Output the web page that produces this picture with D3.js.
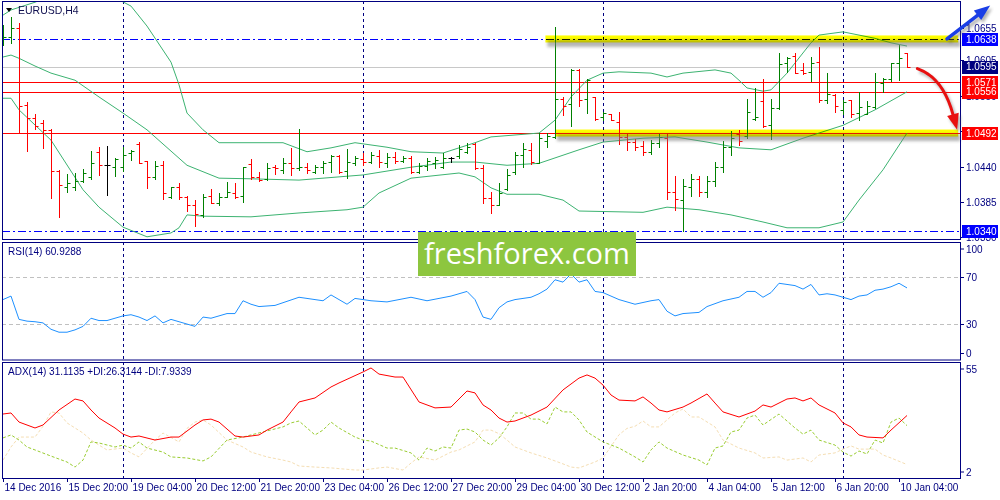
<!DOCTYPE html>
<html><head><meta charset="utf-8">
<script src="https://cdn.jsdelivr.net/npm/d3@7"></script>
<style>
body{margin:0;background:#fff;}
svg{display:block;font-family:"Liberation Sans",Arial,sans-serif;}
</style></head><body>
<svg id="c" width="1000" height="500"></svg>
<script>
// ---------------- DATA ----------------
const symbolTitle = "EURUSD,H4";
const rsiTitle = "RSI(14) 60.9288";
const adxTitle = "ADX(14) 31.1135 +DI:26.3144 -DI:7.9339";

const opens  = [1.0632,1.0641,1.0655,1.0535,1.0515,1.0507,1.0497,1.0433,1.0408,1.0409,1.0417,1.0424,1.0463,1.0442,1.0440,1.0439,1.0461,1.0475,1.0448,1.0424,1.0442,1.0393,1.0408,1.0393,1.0381,1.0365,1.0394,1.0384,1.0393,1.0399,1.0394,1.0444,1.0424,1.0421,1.0439,1.0434,1.0445,1.0437,1.0440,1.0432,1.0439,1.0447,1.0456,1.0433,1.0445,1.0451,1.0447,1.0457,1.0445,1.0455,1.0449,1.0453,1.0431,1.0441,1.0445,1.0440,1.0453,1.0456,1.0462,1.0475,1.0437,1.0391,1.0381,1.0405,1.0431,1.0458,1.0466,1.0446,1.0480,1.0486,1.0545,1.0537,1.0590,1.0545,1.0548,1.0517,1.0522,1.0509,1.0486,1.0478,1.0472,1.0462,1.0476,1.0485,1.0400,1.0388,1.0408,1.0420,1.0400,1.0418,1.0440,1.0470,1.0490,1.0487,1.0514,1.0542,1.0505,1.0531,1.0601,1.0612,1.0590,1.0586,1.0602,1.0543,1.0551,1.0528,1.0543,1.0523,1.0522,1.0533,1.0570,1.0576,1.0600,1.0616];
const highs  = [1.0660,1.0672,1.0662,1.0540,1.0521,1.0512,1.0499,1.0435,1.0428,1.0430,1.0436,1.0464,1.0471,1.0472,1.0454,1.0470,1.0466,1.0478,1.0449,1.0449,1.0449,1.0408,1.0415,1.0394,1.0388,1.0397,1.0405,1.0399,1.0416,1.0414,1.0439,1.0451,1.0432,1.0446,1.0442,1.0453,1.0469,1.0498,1.0446,1.0442,1.0448,1.0458,1.0458,1.0467,1.0456,1.0461,1.0463,1.0466,1.0461,1.0463,1.0456,1.0456,1.0445,1.0453,1.0455,1.0461,1.0455,1.0474,1.0477,1.0477,1.0442,1.0400,1.0414,1.0436,1.0463,1.0477,1.0477,1.0492,1.0492,1.0657,1.0548,1.0591,1.0591,1.0576,1.0548,1.0525,1.0522,1.0525,1.0490,1.0483,1.0480,1.0481,1.0490,1.0490,1.0425,1.0420,1.0428,1.0425,1.0425,1.0447,1.0480,1.0495,1.0497,1.0545,1.0562,1.0576,1.0545,1.0616,1.0610,1.0616,1.0601,1.0610,1.0625,1.0585,1.0553,1.0543,1.0543,1.0556,1.0542,1.0585,1.0577,1.0601,1.0629,1.0616];
const lows   = [1.0629,1.0632,1.0494,1.0464,1.0499,1.0469,1.0391,1.0362,1.0400,1.0403,1.0416,1.0421,1.0427,1.0396,1.0426,1.0433,1.0450,1.0445,1.0407,1.0421,1.0390,1.0391,1.0390,1.0371,1.0348,1.0362,1.0383,1.0380,1.0393,1.0391,1.0385,1.0420,1.0418,1.0419,1.0429,1.0430,1.0427,1.0434,1.0430,1.0430,1.0430,1.0432,1.0430,1.0422,1.0442,1.0442,1.0446,1.0439,1.0439,1.0446,1.0447,1.0430,1.0430,1.0435,1.0438,1.0438,1.0447,1.0453,1.0461,1.0436,1.0383,1.0368,1.0380,1.0403,1.0428,1.0439,1.0444,1.0445,1.0470,1.0484,1.0520,1.0503,1.0534,1.0523,1.0512,1.0512,1.0512,1.0475,1.0466,1.0466,1.0458,1.0459,1.0470,1.0390,1.0372,1.0340,1.0395,1.0395,1.0392,1.0410,1.0432,1.0458,1.0474,1.0485,1.0512,1.0501,1.0483,1.0529,1.0587,1.0585,1.0584,1.0573,1.0540,1.0539,1.0525,1.0522,1.0517,1.0512,1.0521,1.0531,1.0556,1.0573,1.0574,1.0594];
const closes = [1.0641,1.0655,1.0534,1.0515,1.0503,1.0497,1.0433,1.0411,1.0415,1.0417,1.0430,1.0446,1.0442,1.0442,1.0452,1.0458,1.0464,1.0445,1.0424,1.0441,1.0399,1.0408,1.0393,1.0381,1.0367,1.0393,1.0384,1.0393,1.0400,1.0393,1.0439,1.0424,1.0419,1.0438,1.0437,1.0445,1.0437,1.0440,1.0435,1.0439,1.0446,1.0456,1.0432,1.0447,1.0453,1.0447,1.0458,1.0447,1.0455,1.0449,1.0453,1.0431,1.0441,1.0449,1.0450,1.0453,1.0453,1.0467,1.0470,1.0438,1.0391,1.0380,1.0399,1.0427,1.0458,1.0467,1.0447,1.0485,1.0487,1.0545,1.0534,1.0590,1.0543,1.0574,1.0514,1.0523,1.0512,1.0486,1.0478,1.0470,1.0462,1.0476,1.0486,1.0400,1.0390,1.0410,1.0420,1.0400,1.0418,1.0440,1.0470,1.0485,1.0480,1.0525,1.0517,1.0503,1.0531,1.0599,1.0608,1.0585,1.0585,1.0601,1.0543,1.0553,1.0534,1.0540,1.0522,1.0532,1.0534,1.0571,1.0576,1.0600,1.0608,1.0595];

// Bollinger bands (20,2): [bar index, price]
const bbUpper  = [[0,1.0675],[1,1.0683],[4,1.0695],[6,1.0705],[9,1.0715],[12,1.0712],[14,1.0702],[16,1.0689],[18,1.0658],[21,1.0602],[22,1.0567],[23,1.0523],[25,1.0497],[27,1.0477],[31,1.0477],[35,1.0477],[38,1.0463],[41,1.0469],[44,1.0477],[48,1.0470],[51,1.0463],[55,1.0461],[59,1.0477],[61,1.0486],[67,1.0492],[69,1.0512],[71,1.0548],[73,1.0574],[75,1.0585],[77,1.0587],[81,1.0585],[83,1.0579],[85,1.0585],[89,1.0590],[91,1.0585],[92,1.0574],[93,1.0562],[95,1.0557],[96,1.0559],[98,1.0585],[101,1.0632],[102,1.0644],[105,1.0649],[109,1.0639],[111,1.0632],[113,1.0627]];
const bbMiddle = [[0,1.0610],[1,1.0613],[2,1.0608],[4,1.0596],[6,1.0585],[9,1.0574],[12,1.0548],[15,1.0523],[18,1.0497],[23,1.0442],[27,1.0422],[31,1.0421],[37,1.0419],[45,1.0427],[51,1.0439],[56,1.0447],[59,1.0447],[63,1.0442],[67,1.0445],[72,1.0466],[75,1.0478],[80,1.0484],[84,1.0486],[88,1.0478],[92,1.0469],[96,1.0466],[100,1.0484],[105,1.0504],[109,1.0528],[113,1.0556]];
const bbLower  = [[0,1.0546],[1,1.0546],[2,1.0528],[6,1.0481],[10,1.0404],[12,1.0377],[15,1.0346],[18,1.0331],[21,1.0337],[22,1.0345],[23,1.0365],[25,1.0363],[31,1.0362],[37,1.0368],[43,1.0373],[45,1.0377],[47,1.0399],[51,1.0422],[57,1.0430],[59,1.0424],[61,1.0407],[63,1.0397],[67,1.0397],[70,1.0388],[72,1.0371],[80,1.0369],[83,1.0377],[87,1.0373],[91,1.0365],[95,1.0354],[98,1.0345],[102,1.0345],[105,1.0354],[107,1.0388],[110,1.0435],[113,1.0492]];

const rsiValues = [[0,51],[1,54],[2,34],[3,32.5],[4,32],[5,31],[6,25.5],[7,23],[8,23],[9,25],[10,28],[11,35],[12,33],[13,33],[14,35],[15,37],[16,38],[17,36],[18,33],[19,37],[20,31],[21,34],[22,32],[23,30],[24,28],[25,36],[26,35],[27,37],[28,39],[29,39],[30,50],[31,47],[32,45],[34,46],[37,53],[40,50],[41,55],[43,47],[44,52],[46,50],[48,49],[51,53],[53,50],[56,54],[58,58],[59,51],[60,36],[61,34],[62,44],[63,49],[64,51],[66,53],[67,56],[68,60],[69,68],[70,66],[71,73],[72,66],[73,68],[74,58],[75,57],[77,51],[79,47],[81,50],[82,51],[83,41],[84,37],[85,39],[87,40],[88,45],[90,50],[92,53],[93,58],[94,58],[95,53],[96,57],[97,65],[99,63],[100,60],[101,64],[102,55],[103,56],[104,55],[106,51],[107,54],[108,55],[109,59],[110,60],[111,62],[112,65],[113,61]];
const rsiLevels = [70, 30];
const rsiTicks = [100, 70, 30, 0];

const adxValues = [[0,31.8],[1,32.3],[2,28.0],[4,25.2],[5,26.6],[7,33.7],[9,38.9],[10,38.0],[11,33.7],[12,29.9],[14,25.2],[15,22.3],[16,20.9],[17,21.4],[19,19.5],[21,20.9],[22,20.9],[24,26.6],[25,29.0],[26,29.4],[27,28.0],[29,21.4],[30,20.9],[32,21.9],[33,24.2],[35,28.0],[36,32.8],[37,37.5],[39,39.4],[41,44.6],[42,46.5],[45,51.7],[46,53.6],[47,50.7],[49,49.3],[50,49.3],[52,37.5],[54,34.7],[56,35.1],[58,42.7],[59,41.8],[60,36.1],[61,33.7],[62,29.9],[63,28.0],[64,28.5],[66,31.3],[68,35.1],[70,43.2],[72,48.8],[73,50.3],[74,48.8],[75,45.5],[76,40.8],[77,38.4],[79,38.0],[80,39.9],[81,37.0],[82,33.7],[83,32.8],[85,35.1],[86,37.0],[88,41.3],[89,37.0],[90,32.8],[92,30.4],[94,33.2],[95,36.1],[96,35.1],[98,38.9],[99,39.4],[100,38.0],[101,39.4],[102,36.1],[104,32.3],[105,27.6],[106,25.7],[107,21.9],[108,20.9],[110,20.5],[111,24.2],[113,31.1]];
const plusDI = [[0,20.5],[1,21.9],[2,19.5],[3,16.2],[4,14.8],[6,11.9],[8,9.1],[9,6.7],[10,10.0],[11,18.6],[12,18.1],[14,16.2],[15,17.1],[16,15.7],[17,18.6],[18,15.7],[20,13.8],[21,11.5],[23,11.0],[25,9.6],[26,11.5],[28,19.5],[30,20.9],[31,21.9],[33,23.8],[35,25.7],[36,27.6],[37,28.5],[39,21.9],[40,24.2],[41,28.0],[42,25.2],[44,20.9],[45,19.5],[46,19.0],[48,15.7],[49,15.7],[51,13.4],[52,10.0],[53,15.7],[54,14.3],[55,16.2],[56,15.7],[57,24.2],[58,24.7],[59,23.3],[60,19.5],[61,17.1],[62,20.5],[63,25.7],[64,32.3],[65,32.3],[66,29.4],[67,29.4],[68,27.1],[69,35.1],[70,32.8],[71,32.8],[72,29.0],[73,23.3],[75,18.6],[77,15.7],[79,11.5],[80,9.1],[81,14.8],[82,18.6],[83,15.7],[85,12.4],[87,10.0],[88,7.7],[89,15.7],[90,16.7],[91,23.3],[92,24.2],[93,29.9],[94,31.3],[95,26.6],[97,31.8],[99,25.2],[100,22.3],[101,24.2],[102,19.5],[104,17.1],[105,13.8],[106,11.9],[107,14.3],[108,12.9],[109,19.5],[110,18.1],[111,28.0],[112,29.9],[113,26.3]];
const minusDI = [[0,10.0],[1,16.2],[2,20.9],[4,20.9],[5,26.0],[6,32.8],[7,32.3],[8,27.6],[10,22.8],[11,19.5],[12,17.1],[13,14.8],[15,15.7],[16,13.4],[17,11.5],[19,19.5],[20,22.8],[22,18.6],[23,25.0],[24,28.0],[25,29.0],[26,26.6],[28,19.5],[30,16.2],[31,13.8],[33,11.5],[35,10.0],[36,9.1],[37,7.2],[39,6.7],[41,6.3],[44,5.3],[45,5.3],[47,6.3],[48,6.7],[50,5.3],[51,8.6],[52,11.5],[54,10.0],[56,13.8],[57,14.8],[59,18.6],[60,24.2],[61,24.2],[62,22.5],[63,19.5],[64,16.2],[66,13.4],[68,11.0],[70,8.2],[71,6.7],[72,6.3],[74,9.1],[75,11.0],[76,16.5],[77,22.0],[78,25.0],[79,26.0],[80,28.5],[81,25.7],[82,25.7],[84,32.3],[85,34.2],[86,30.4],[87,30.4],[89,25.7],[90,19.5],[92,15.7],[94,13.4],[95,11.0],[97,11.5],[98,10.0],[100,11.0],[101,9.1],[102,12.4],[104,13.4],[105,15.2],[106,16.7],[107,15.2],[109,15.2],[110,12.4],[111,11.0],[113,7.9]];
const adxTicks = [55, 2];

const priceTicks = [1.0655, 1.0605, 1.0550, 1.0495, 1.0440, 1.0385, 1.0330];
const levelPrices = [1.0638, 1.0595, 1.0571, 1.0556, 1.0492, 1.0340];
const zoneBands = [[67.8, 119.4, 1.0638], [69.0, 119.4, 1.0492]]; // highlighter: from bar, to bar, price
const separatorIdx = [15, 45, 75, 105];
const xLabelIdx = [0, 8, 16, 24, 32, 40, 48, 56, 64, 72, 80, 88, 96, 104, 112];
const xLabels = ["14 Dec 2016","15 Dec 20:00","19 Dec 04:00","20 Dec 12:00","21 Dec 20:00","23 Dec 04:00","26 Dec 12:00","27 Dec 20:00","29 Dec 04:00","30 Dec 12:00","2 Jan 20:00","4 Jan 04:00","5 Jan 12:00","6 Jan 20:00","10 Jan 04:00"];
const watermark = "freshforex.com";

// ---------------- LAYOUT ----------------
const L = 2, R = 961;
const P = {main:[1,239], rsi:[242,359.5], adx:[362,478]};
const NAVY = "#000080";
const svg = d3.select("#c");
const defs = svg.append("defs");

const x = d3.scaleLinear().domain([0, 113]).range([3, 907]);
const y = d3.scaleLinear().domain([1.03276, 1.06969]).range([239, 1]);
const yR = d3.scaleLinear().domain([0, 100]).range([359, 242.5]);
const yA = d3.scaleLinear().domain([2, 55]).range([477, 365]);
const cx = v => Math.round(v) + 0.5;
const cy = v => Math.round(v) + 0.5;

[["clipMain",P.main],["clipRsi",P.rsi],["clipAdx",P.adx]].forEach(([id,p])=>{
  defs.append("clipPath").attr("id",id).append("rect")
    .attr("x",L+1).attr("y",p[0]+1).attr("width",R-L-1).attr("height",p[1]-p[0]-1);
});
const blur = defs.append("filter").attr("id","blur").attr("x","-20%").attr("y","-50%").attr("width","140%").attr("height","200%");
blur.append("feGaussianBlur").attr("stdDeviation",1.6);

// period separators (all panels)
Object.values(P).forEach(p=>{
  svg.append("g").selectAll("line").data(separatorIdx).join("line")
    .attr("x1",d=>cx(x(d))).attr("x2",d=>cx(x(d)))
    .attr("y1",p[0]).attr("y2",p[1])
    .attr("stroke",NAVY).attr("stroke-width",1).attr("stroke-dasharray","3,3");
});

// ---------- MAIN PANEL ----------
const gMain = svg.append("g").attr("clip-path","url(#clipMain)");
const lvlStyle = [
  {stroke:"#0000ff", dash:"8,3,2,3", box:"#0000ff"},
  {stroke:"#c8c8c8", dash:null, box:"#000080"},
  {stroke:"#ff0000", dash:null, box:"#ff0000"},
  {stroke:"#ff0000", dash:null, box:"#ff0000"},
  {stroke:"#ff0000", dash:null, box:"#ff0000"},
  {stroke:"#0000ff", dash:"8,3,2,3", box:"#0000ff"}
];
gMain.selectAll("line.lvl").data(levelPrices).join("line").attr("class","lvl")
  .attr("x1",L).attr("x2",R).attr("y1",d=>cy(y(d))).attr("y2",d=>cy(y(d)))
  .attr("stroke",(d,i)=>lvlStyle[i].stroke).attr("stroke-dasharray",(d,i)=>lvlStyle[i].dash);

const bbLine = d3.line().x(d=>x(d[0])).y(d=>y(d[1]));
[bbUpper,bbMiddle,bbLower].forEach(s=>{
  gMain.append("path").attr("d",bbLine(s)).attr("fill","none").attr("stroke","#3cb371").attr("stroke-width",1);
});

const bars = d3.range(opens.length).map(i=>({i,o:opens[i],h:highs[i],l:lows[i],c:closes[i]}));
gMain.selectAll("path.bar").data(bars).join("path").attr("class","bar")
  .attr("fill","none").attr("stroke-width",1)
  .attr("stroke",d=>d.c>d.o?"#008000":(d.c<d.o?"#ff0000":"#000000"))
  .attr("d",d=>{
    const xx=cx(x(d.i)), yh=Math.round(y(d.h)), yl=Math.round(y(d.l))+1;
    const yo=cy(y(d.o)), yc=cy(y(d.c));
    return `M${xx},${yh}V${yl}M${xx-3},${yo}H${xx}M${xx},${yc}H${xx+3}`;
  });

// Highlighter zones
const zg = svg.append("g");
zg.selectAll("rect.sh").data(zoneBands).join("rect").attr("class","sh")
  .attr("x",d=>x(d[0])+2).attr("y",d=>y(d[2])+1).attr("width",d=>x(d[1])-x(d[0])).attr("height",7)
  .attr("fill","#7a7a7a").attr("opacity",0.55).attr("filter","url(#blur)");
zg.selectAll("rect.hl").data(zoneBands).join("rect").attr("class","hl")
  .attr("x",d=>x(d[0])).attr("y",d=>y(d[2])-3.5).attr("width",d=>x(d[1])-x(d[0])).attr("height",7)
  .attr("fill","#ffff00").style("mix-blend-mode","multiply");

// ---------- RSI PANEL ----------
const gR = svg.append("g").attr("clip-path","url(#clipRsi)");
gR.selectAll("line").data(rsiLevels).join("line")
  .attr("x1",L).attr("x2",R).attr("y1",d=>cy(yR(d))).attr("y2",d=>cy(yR(d)))
  .attr("stroke","#c0c0c0").attr("stroke-dasharray","4,3");
gR.append("path").attr("d",d3.line().x(d=>x(d[0])).y(d=>yR(d[1]))(rsiValues))
  .attr("fill","none").attr("stroke","#1e90ff").attr("stroke-width",1);

// ---------- ADX PANEL ----------
const gA = svg.append("g").attr("clip-path","url(#clipAdx)");
const aLine = d3.line().x(d=>x(d[0])).y(d=>yA(d[1]));
gA.append("path").attr("d",aLine(minusDI)).attr("fill","none").attr("stroke","#f5deb3").attr("stroke-dasharray","3,2");
gA.append("path").attr("d",aLine(plusDI)).attr("fill","none").attr("stroke","#9acd32").attr("stroke-dasharray","3,2");
gA.append("path").attr("d",aLine(adxValues)).attr("fill","none").attr("stroke","#ff0000").attr("stroke-width",1);

// ---------- FRAMES ----------
Object.values(P).forEach(p=>{
  svg.append("rect").attr("x",L+0.5).attr("y",p[0]+0.5).attr("width",R-L-1).attr("height",p[1]-p[0])
    .attr("fill","none").attr("stroke",NAVY).attr("stroke-width",1);
});

// ---------- AXES (right) ----------
const axG = svg.append("g").attr("font-size","10px").attr("fill",NAVY);
function rightTicks(vals, scale, fmt, panel){
  vals.forEach(v=>{
    const yy = cy(scale(v));
    const ty = Math.max(panel[0]+7, Math.min(panel[1]-6, yy));
    axG.append("line").attr("x1",R-1).attr("x2",R+3).attr("y1",ty).attr("y2",ty).attr("stroke",NAVY);
    axG.append("text").attr("x",R+5).attr("y",ty).attr("dy","0.35em").text(fmt(v));
  });
}
rightTicks(priceTicks, y, d3.format(".4f"), [-20, 600]);
rightTicks(rsiTicks, yR, d=>d, P.rsi);
rightTicks(adxTicks, yA, d=>d, P.adx);

// level boxes
const lb = svg.append("g").attr("font-size","10px");
levelPrices.forEach((p,i)=>{
  const yy = y(p);
  lb.append("rect").attr("x",R+1).attr("y",Math.round(yy)-6).attr("width",36).attr("height",13).attr("fill",lvlStyle[i].box);
  lb.append("text").attr("x",R+5).attr("y",yy).attr("dy","0.36em").attr("fill","#fff").text(d3.format(".4f")(p));
});

// bottom time axis
const bx = svg.append("g").attr("font-size","10px").attr("fill",NAVY);
xLabelIdx.forEach((idx,k)=>{
  const xx = cx(x(idx));
  bx.append("line").attr("x1",xx).attr("x2",xx).attr("y1",P.adx[1]).attr("y2",P.adx[1]+4).attr("stroke",NAVY);
  bx.append("text").attr("x",xx+1).attr("y",491).text(xLabels[k]);
});

// ---------- TITLES ----------
svg.append("path").attr("d","M6,8 L12,8 L9,12 Z").attr("fill","#000");
svg.append("text").attr("x",18).attr("y",14).attr("font-size","10.5px").attr("fill","#101050").text(symbolTitle);
svg.append("text").attr("x",8).attr("y",255).attr("font-size","10px").attr("fill",NAVY).text(rsiTitle);
svg.append("text").attr("x",8).attr("y",375).attr("font-size","10px").attr("fill",NAVY).text(adxTitle);

// ---------- ANNOTATION ARROWS ----------
const arrowG = svg.append("g");
function arrow(path, head, color, width){
  const sh = arrowG.append("g").attr("transform","translate(2,3)").attr("opacity",0.45).attr("filter","url(#blur)");
  sh.append("path").attr("d",path).attr("fill","none").attr("stroke","#555").attr("stroke-width",width);
  sh.append("path").attr("d",head).attr("fill","#555");
  arrowG.append("path").attr("d",path).attr("fill","none").attr("stroke",color).attr("stroke-width",width).attr("stroke-linecap","round");
  arrowG.append("path").attr("d",head).attr("fill",color);
}
function headAt(x1,y1,ang,hl,hw){
  const bx0=x1-hl*Math.cos(ang), by0=y1-hl*Math.sin(ang);
  return {bx0,by0,d:`M${x1+2*Math.cos(ang)},${y1+2*Math.sin(ang)}L${bx0-hw*Math.sin(ang)},${by0+hw*Math.cos(ang)}L${bx0+hw*Math.sin(ang)},${by0-hw*Math.cos(ang)}Z`};
}
{
  const x0=x(118.0), y0=y(1.0638), x1=x(123.2), y1=y(1.0688);
  const h=headAt(x1,y1,Math.atan2(y1-y0,x1-x0),14,6);
  arrow(`M${x0},${y0}L${h.bx0},${h.by0}`, h.d, "#1a3ee6", 3.5);
}
{
  const x0=x(114.3), y0=y(1.0592), xc=x(117.5), yc=y(1.0578), x1=x(119.2), y1=y(1.0500);
  const h=headAt(x1,y1,Math.atan2(y1-yc,x1-xc),14,6);
  arrow(`M${x0},${y0}Q${xc},${yc} ${h.bx0},${h.by0}`, h.d, "#e81010", 3);
}

// ---------- WATERMARK ----------
const wm = svg.append("g");
wm.append("rect").attr("x",418).attr("y",232).attr("width",218).attr("height",44).attr("fill","#8dc63f");
wm.append("text").attr("x",527).attr("y",264).attr("text-anchor","middle")
  .attr("font-family","'Open Sans',sans-serif").attr("font-size","29px").attr("fill","#fff").text(watermark);
</script>
</body></html>
